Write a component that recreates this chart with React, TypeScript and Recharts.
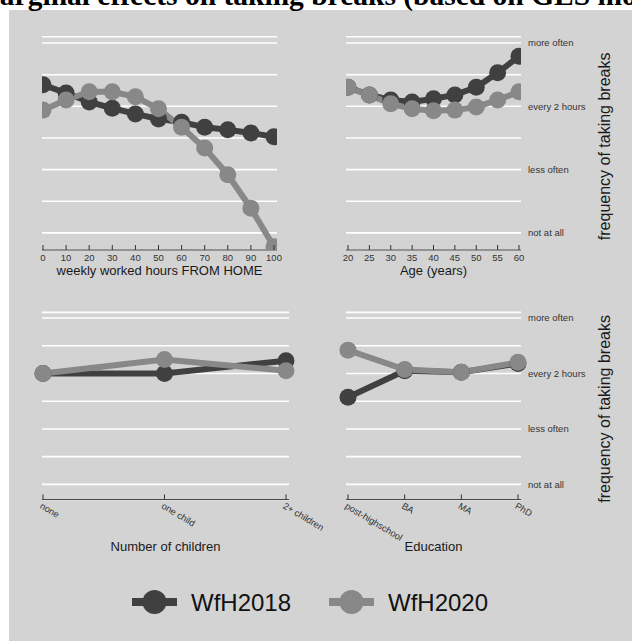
import React from 'react';
import { LineChart, Line, XAxis, YAxis, CartesianGrid } from 'recharts';

// frequency scale: 1 = not at all ... 4 = more often
const yTicks = [1, 1.5, 2, 2.5, 3, 3.5, 4];
const yLabels: Record<number, string> = { 1: 'not at all', 2: 'less often', 3: 'every 2 hours', 4: 'more often' };

const hoursX = [0, 10, 20, 30, 40, 50, 60, 70, 80, 90, 100];
const hours2018 = [3.34, 3.21, 3.07, 2.97, 2.88, 2.8, 2.75, 2.67, 2.63, 2.58, 2.52];
const hours2020 = [2.94, 3.1, 3.23, 3.23, 3.15, 2.96, 2.67, 2.34, 1.92, 1.39, 0.78];

const ageX = [20, 25, 30, 35, 40, 45, 50, 55, 60];
const age2018 = [3.3, 3.18, 3.1, 3.07, 3.12, 3.18, 3.3, 3.53, 3.79];
const age2020 = [3.3, 3.18, 3.04, 2.96, 2.93, 2.94, 2.99, 3.1, 3.23];

const childCats = ['none', 'one child', '2+ children'];
const child2018 = [3.0, 3.0, 3.23];
const child2020 = [3.0, 3.25, 3.05];

const eduCats = ['post-highschool', 'BA', 'MA', 'PhD'];
const edu2018 = [2.57, 3.05, 3.02, 3.18];
const edu2020 = [3.42, 3.07, 3.02, 3.2];

const series = [
  { key: 'WfH2018', color: '#404040' },
  { key: 'WfH2020', color: '#888888' },
];

const build = (xs: (number | string)[], a: number[], b: number[]) =>
  xs.map((x, i) => ({ x, WfH2018: a[i], WfH2020: b[i] }));

const hoursData = build(hoursX, hours2018, hours2020);
const ageData = build(ageX, age2018, age2020);
const childData = build(childCats, child2018, child2020);
const eduData = build(eduCats, edu2018, edu2020);

const NumTick = (p: any) => (
  <g>
    <line x1={p.x} x2={p.x} y1={p.y - 5} y2={p.y} stroke="#333" />
    <text x={p.x} y={p.y + 11} textAnchor="middle" fontSize={9.5} fill="#333">
      {p.payload.value}
    </text>
  </g>
);

const CatTick = (p: any) => (
  <g transform={`translate(${p.x},${p.y})`}>
    <line x1={0} x2={0} y1={-5} y2={0} stroke="#333" />
    <text transform="rotate(31)" x={1} y={9} fontSize={9.3} fill="#333" textAnchor="start">
      {p.payload.value}
    </text>
  </g>
);

const RightTitle = (props: any) => {
  const vb = props.viewBox || { x: 0, y: 0, width: 0, height: 0 };
  return (
    <text
      transform={`translate(${vb.x + 89},${vb.y + vb.height / 2 + 3}) rotate(-90)`}
      textAnchor="middle"
      fontSize={16}
      fill="#1a1a1a"
    >
      frequency of taking breaks
    </text>
  );
};

interface PanelProps {
  left: number;
  top: number;
  width: number;
  height: number;
  margin: { top: number; right: number; bottom: number; left: number };
  data: any[];
  numeric: boolean;
  domain?: [number, number];
  ticks?: number[];
  padding?: { left: number; right: number };
  xHeight: number;
  title: string;
  titleOffset: number;
  right: boolean;
}

function Panel(p: PanelProps) {
  return (
    <div style={{ position: 'absolute', left: p.left, top: p.top }}>
      <LineChart width={p.width} height={p.height} data={p.data} margin={p.margin}>
        <CartesianGrid vertical={false} stroke="#ffffff" strokeWidth={1.6} />
        {p.numeric ? (
          <XAxis
            dataKey="x"
            type="number"
            domain={p.domain}
            ticks={p.ticks}
            allowDataOverflow
            height={p.xHeight}
            axisLine={{ stroke: '#333' }}
            tickLine={false}
            tickSize={0}
            tickMargin={0}
            interval={0}
            tick={<NumTick />}
            label={{ value: p.title, position: 'insideTop', offset: p.titleOffset, fill: '#1a1a1a', fontSize: 13 }}
          />
        ) : (
          <XAxis
            dataKey="x"
            type="category"
            padding={p.padding}
            height={p.xHeight}
            axisLine={{ stroke: '#333' }}
            tickLine={false}
            tickSize={0}
            tickMargin={0}
            interval={0}
            tick={<CatTick />}
            label={{ value: p.title, position: 'insideTop', offset: p.titleOffset, fill: '#1a1a1a', fontSize: 13 }}
          />
        )}
        {p.right ? (
          <YAxis
            orientation="right"
            width={111}
            domain={[0.73, 4.1]}
            allowDataOverflow
            ticks={yTicks}
            interval={0}
            axisLine={false}
            tickLine={false}
            tickSize={0}
            tickMargin={7}
            tick={{ fontSize: 9.5, fill: '#333' }}
            tickFormatter={(v: number) => yLabels[v] || ''}
            label={{ content: <RightTitle /> }}
          />
        ) : (
          <YAxis hide domain={[0.73, 4.1]} allowDataOverflow ticks={yTicks} interval={0} />
        )}
        {series.map((s) => (
          <Line
            key={s.key}
            dataKey={s.key}
            type="linear"
            stroke={s.color}
            strokeWidth={6}
            dot={{ r: 8.5, fill: s.color, stroke: 'none' }}
            activeDot={false}
            isAnimationActive={false}
          />
        ))}
      </LineChart>
    </div>
  );
}

export default function App() {
  return (
    <div
      style={{
        position: 'absolute',
        left: 0,
        top: 0,
        width: 632,
        height: 641,
        background: '#ffffff',
        overflow: 'hidden',
        fontFamily: '"Liberation Sans", Arial, sans-serif',
      }}
    >
      <div style={{ position: 'absolute', left: 9, top: 10, right: 0, bottom: 0, background: '#d3d3d3' }} />
      <svg width={632} height={641} style={{ position: 'absolute', left: 0, top: 0 }}>
        <text x={-28} y={5} fontFamily='"Liberation Serif", "Times New Roman", serif' fontWeight="bold" fontSize={29.5} fill="#000">
          Marginal effects on taking breaks (based on GES models)
        </text>
      </svg>
      <Panel
        left={0}
        top={0}
        width={300}
        height={300}
        margin={{ top: 36.7, right: 23, bottom: 0, left: 42 }}
        data={hoursData}
        numeric
        domain={[-0.43, 101.3]}
        ticks={hoursX}
        xHeight={50}
        title="weekly worked hours FROM HOME"
        titleOffset={16}
        right={false}
      />
      <Panel
        left={300}
        top={0}
        width={332}
        height={300}
        margin={{ top: 36.7, right: 0, bottom: 0, left: 46 }}
        data={ageData}
        numeric
        domain={[19.53, 60.47]}
        ticks={ageX}
        xHeight={50}
        title="Age (years)"
        titleOffset={16}
        right
      />
      <Panel
        left={0}
        top={280}
        width={345}
        height={300}
        margin={{ top: 32.4, right: 56, bottom: 0, left: 42 }}
        data={childData}
        numeric={false}
        padding={{ left: 1, right: 3 }}
        xHeight={80.6}
        title="Number of children"
        titleOffset={42}
        right={false}
      />
      <Panel
        left={300}
        top={280}
        width={332}
        height={300}
        margin={{ top: 32.4, right: 0, bottom: 0, left: 46 }}
        data={eduData}
        numeric={false}
        padding={{ left: 2, right: 3 }}
        xHeight={80.6}
        title="Education"
        titleOffset={42}
        right
      />
      <svg width={632} height={641} style={{ position: 'absolute', left: 0, top: 0, pointerEvents: 'none' }}>
        {series.map((s, i) => {
          const x0 = 132 + i * 197;
          return (
            <g key={s.key}>
              <line x1={x0} x2={x0 + 45} y1={602} y2={602} stroke={s.color} strokeWidth={8} />
              <circle cx={x0 + 22.5} cy={602} r={12} fill={s.color} />
              <text x={x0 + 59} y={610.5} fontSize={24} fill="#111">
                {s.key}
              </text>
            </g>
          );
        })}
      </svg>
    </div>
  );
}
